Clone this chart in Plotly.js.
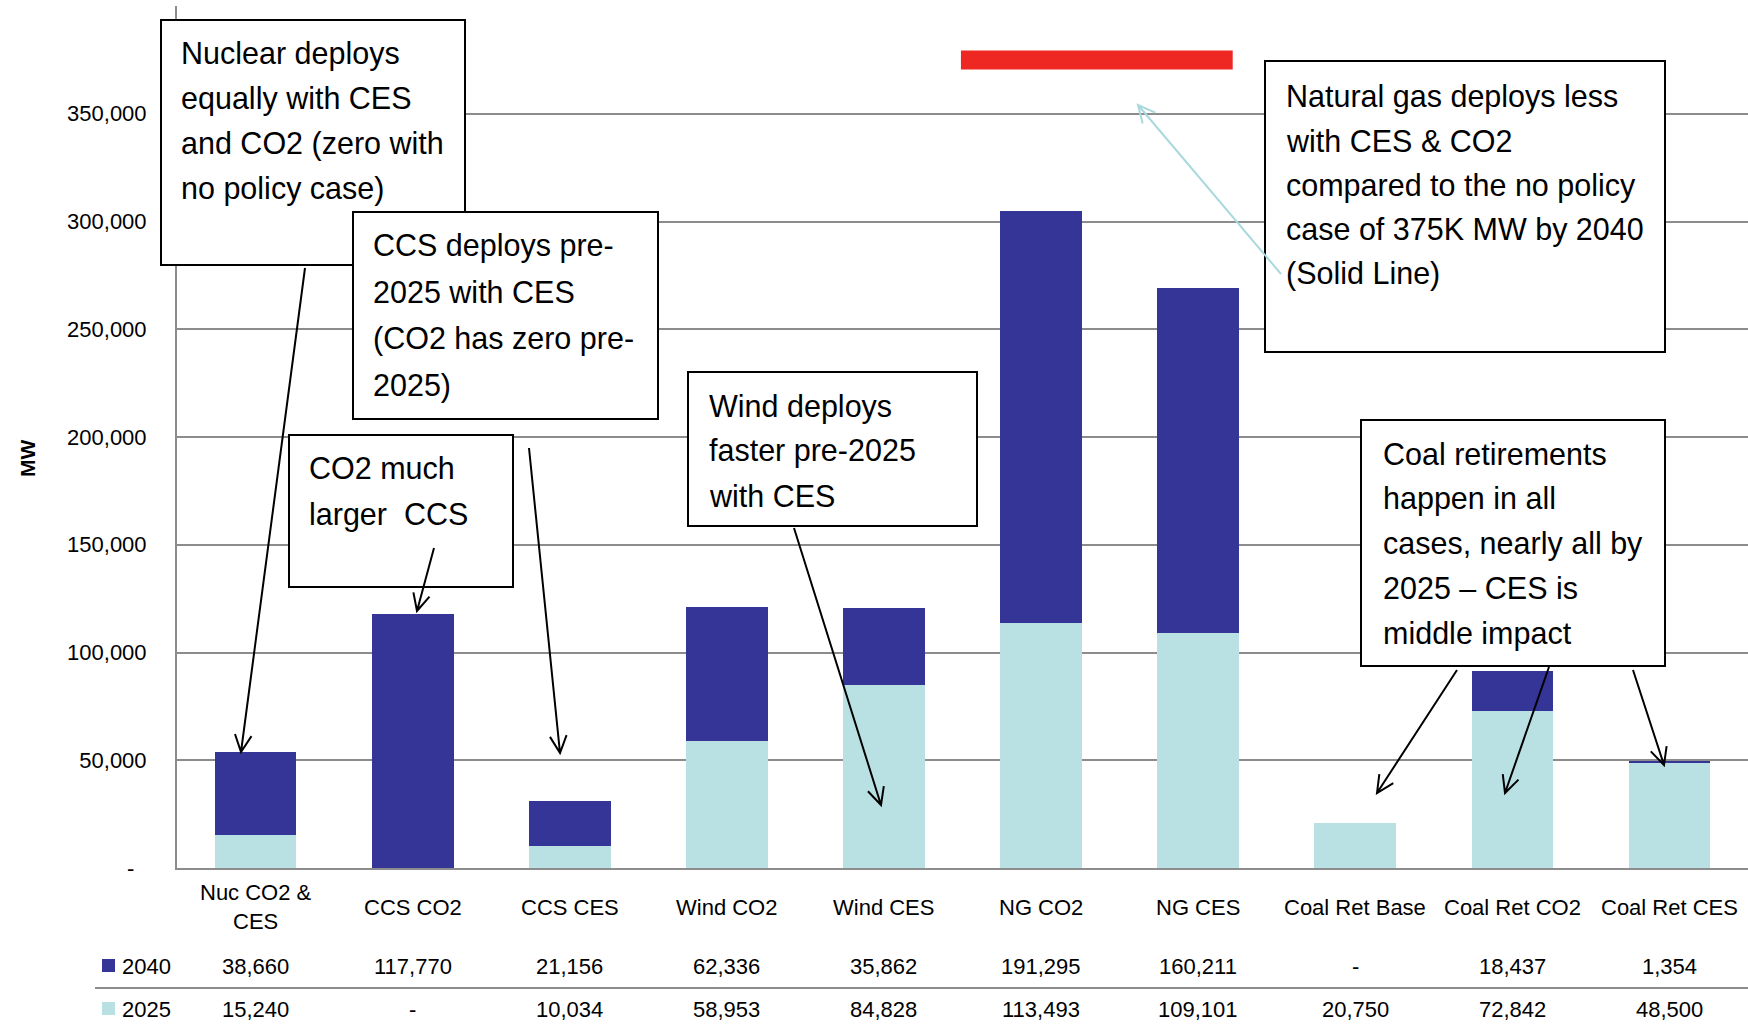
<!DOCTYPE html>
<html>
<head>
<meta charset="utf-8">
<script src="https://cdn.plot.ly/plotly-3.0.1.min.js"></script>
<style>
  html, body { margin: 0; padding: 0; background: #ffffff; }
  #chart { width: 1748px; height: 1024px; }
</style>
</head>
<body>
<div id="chart"></div>
<script>
// Capacity additions / retirements (MW) by case
const categories = ['Nuc CO2 &amp;<br>CES', 'CCS CO2', 'CCS CES', 'Wind CO2', 'Wind CES',
                    'NG CO2', 'NG CES', 'Coal Ret Base', 'Coal Ret CO2', 'Coal Ret CES'];
const mw2040 = [38660, 117770, 21156, 62336, 35862, 191295, 160211, 0, 18437, 1354];
const mw2025 = [15240, 0, 10034, 58953, 84828, 113493, 109101, 20750, 72842, 48500];
const seriesNames = ['2040', '2025'];
const yTickValues = [0, 50000, 100000, 150000, 200000, 250000, 300000, 350000];
const noPolicyNG2040 = 375000;   // natural gas build by 2040 with no policy (solid line)

const DARK = '#353597';
const LIGHT = '#b9e0e3';
const GRID = '#8c8c8c';
const SANS = 'Liberation Sans, Arial, sans-serif';

const W = 1748, H = 1024;
const M = { l: 177, r: 0, t: 6, b: 156 };
const plotW = W - M.l - M.r, plotH = H - M.t - M.b;
const px = x => (x - M.l) / plotW;          // page pixel -> paper x
const py = y => (H - M.b - y) / plotH;      // page pixel -> paper y

const fmt = v => v === 0 ? '-' : v.toLocaleString('en-US');
const idx = categories.map((_, i) => i);

const traces = [
  { type: 'bar', name: seriesNames[1], x: categories, y: mw2025,
    marker: { color: LIGHT }, showlegend: false, hoverinfo: 'x+y+name' },
  { type: 'bar', name: seriesNames[0], x: categories, y: mw2040,
    marker: { color: DARK }, showlegend: false, hoverinfo: 'x+y+name' }
];

// callout boxes: [left, top, right, bottom] in page pixels
function box(l, t, r, b) {
  return { type: 'rect', xref: 'paper', yref: 'paper', layer: 'above',
           x0: px(l), x1: px(r), y0: py(b), y1: py(t),
           line: { color: '#000000', width: 2 }, fillcolor: '#ffffff' };
}
// straight arrow with an open V head, tail -> head in page pixels
function arrow(tail, head, color) {
  const dx = head[0] - tail[0], dy = head[1] - tail[1];
  const len = Math.hypot(dx, dy);
  const bx = -dx / len, by = -dy / len;
  const L = 19, a = 26 * Math.PI / 180;
  const arm = s => {
    const c = Math.cos(s * a), sn = Math.sin(s * a);
    return [head[0] + L * (bx * c - by * sn), head[1] + L * (bx * sn + by * c)];
  };
  const p = q => px(q[0]) + ',' + py(q[1]);
  const a1 = arm(1), a2 = arm(-1);
  return { type: 'path', xref: 'paper', yref: 'paper', layer: 'above',
           path: 'M' + p(tail) + ' L' + p(head) + ' M' + p(a1) + ' L' + p(head) + ' L' + p(a2),
           line: { color: color || '#000000', width: 2 } };
}
// callout text, one annotation per line so the line pitch follows the box layout
function note(lines, xLeft, yFirst, step) {
  return lines.map((t, k) => ({
    xref: 'paper', yref: 'paper', x: px(xLeft), y: py(yFirst + k * step),
    xanchor: 'left', yanchor: 'middle', align: 'left', showarrow: false, borderpad: 0,
    text: t, font: { family: SANS, size: 30.5, color: '#000000' } }));
}

const shapes = [
  // no-policy natural gas level
  { type: 'line', xref: 'x', yref: 'y', layer: 'above', x0: 4.49, x1: 6.22,
    y0: noPolicyNG2040, y1: noPolicyNG2040, line: { color: '#ee2722', width: 19 } },
  box(161, 20, 465, 265),
  box(353, 212, 658, 419),
  box(289, 435, 513, 587),
  box(688, 372, 977, 526),
  box(1265, 61, 1665, 352),
  box(1361, 420, 1665, 666),
  arrow([305, 268], [241, 752]),
  arrow([529, 448], [560, 753]),
  arrow([434, 548], [417, 611]),
  arrow([794, 528], [881, 805]),
  arrow([1281, 274], [1138, 105], '#a9d9dd'),
  arrow([1457, 670], [1377, 793]),
  arrow([1549, 667], [1505, 793]),
  arrow([1633, 670], [1664, 765]),
  // data table rule and legend keys
  { type: 'line', xref: 'paper', yref: 'paper', x0: px(95), x1: px(1748), y0: py(988), y1: py(988),
    line: { color: GRID, width: 2 } },
  { type: 'rect', xref: 'paper', yref: 'paper', x0: px(102), x1: px(115), y0: py(972), y1: py(959),
    line: { width: 0 }, fillcolor: DARK },
  { type: 'rect', xref: 'paper', yref: 'paper', x0: px(102), x1: px(115), y0: py(1015), y1: py(1002),
    line: { width: 0 }, fillcolor: LIGHT }
];

const tableFont = { family: SANS, size: 22, color: '#000000' };
const annotations = [].concat(
  note(['Nuclear deploys', 'equally with CES', 'and CO2 (zero with', 'no policy case)'], 180, 53, 45.2),
  note(['CCS deploys pre-', '2025 with CES', '(CO2 has zero pre-', '2025)'], 372, 245, 46.8),
  note(['CO2 much', 'larger\u00a0 CCS'], 308, 468, 46),
  note(['Wind deploys', 'faster pre-2025', 'with CES'], 708, 406, 45),
  note(['Natural gas deploys less', 'with CES &amp; CO2', 'compared to the no policy',
        'case of 375K MW by 2040', '(Solid Line)'], 1285, 96, 44.5),
  note(['Coal retirements', 'happen in all', 'cases, nearly all by', '2025 \u2013 CES is',
        'middle impact'], 1382, 454, 44.8),
  [
    { xref: 'paper', yref: 'paper', x: px(27), y: py(459), xanchor: 'center', yanchor: 'middle',
      textangle: -90, showarrow: false, text: 'MW',
      font: { family: SANS, size: 21, weight: 700, color: '#000000' } },
    { xref: 'paper', yref: 'paper', x: px(120), y: py(966), xanchor: 'left', yanchor: 'middle',
      showarrow: false, text: seriesNames[0], font: tableFont },
    { xref: 'paper', yref: 'paper', x: px(120), y: py(1009), xanchor: 'left', yanchor: 'middle',
      showarrow: false, text: seriesNames[1], font: tableFont }
  ]
);
idx.forEach(i => {
  annotations.push({ xref: 'x', yref: 'paper', x: i, y: py(907), yanchor: 'middle', showarrow: false,
                     text: categories[i], font: tableFont });
  annotations.push({ xref: 'x', yref: 'paper', x: i, y: py(966), yanchor: 'middle', showarrow: false,
                     text: fmt(mw2040[i]), font: tableFont });
  annotations.push({ xref: 'x', yref: 'paper', x: i, y: py(1009), yanchor: 'middle', showarrow: false,
                     text: fmt(mw2025[i]), font: tableFont });
});

const layout = {
  width: W, height: H, margin: M,
  paper_bgcolor: '#ffffff', plot_bgcolor: '#ffffff',
  barmode: 'stack', bargap: 0.48,
  showlegend: false,
  xaxis: { type: 'category', range: [-0.5, 9.5], showticklabels: false, ticks: '',
           showgrid: false, showline: true, linecolor: GRID, linewidth: 2, zeroline: false, fixedrange: true },
  yaxis: { range: [0, 400000], tickmode: 'array', tickvals: yTickValues,
           ticktext: yTickValues.map(v => v === 0 ? '-\u00a0\u00a0' : fmt(v)),
           ticks: '', ticklabelstandoff: 24, tickfont: { family: SANS, size: 22, color: '#000000' },
           showgrid: true, gridcolor: GRID, gridwidth: 2,
           showline: true, linecolor: GRID, linewidth: 2, zeroline: false, fixedrange: true },
  shapes: shapes,
  annotations: annotations
};

Plotly.newPlot('chart', traces, layout, { displayModeBar: false, staticPlot: true });
</script>
</body>
</html>
